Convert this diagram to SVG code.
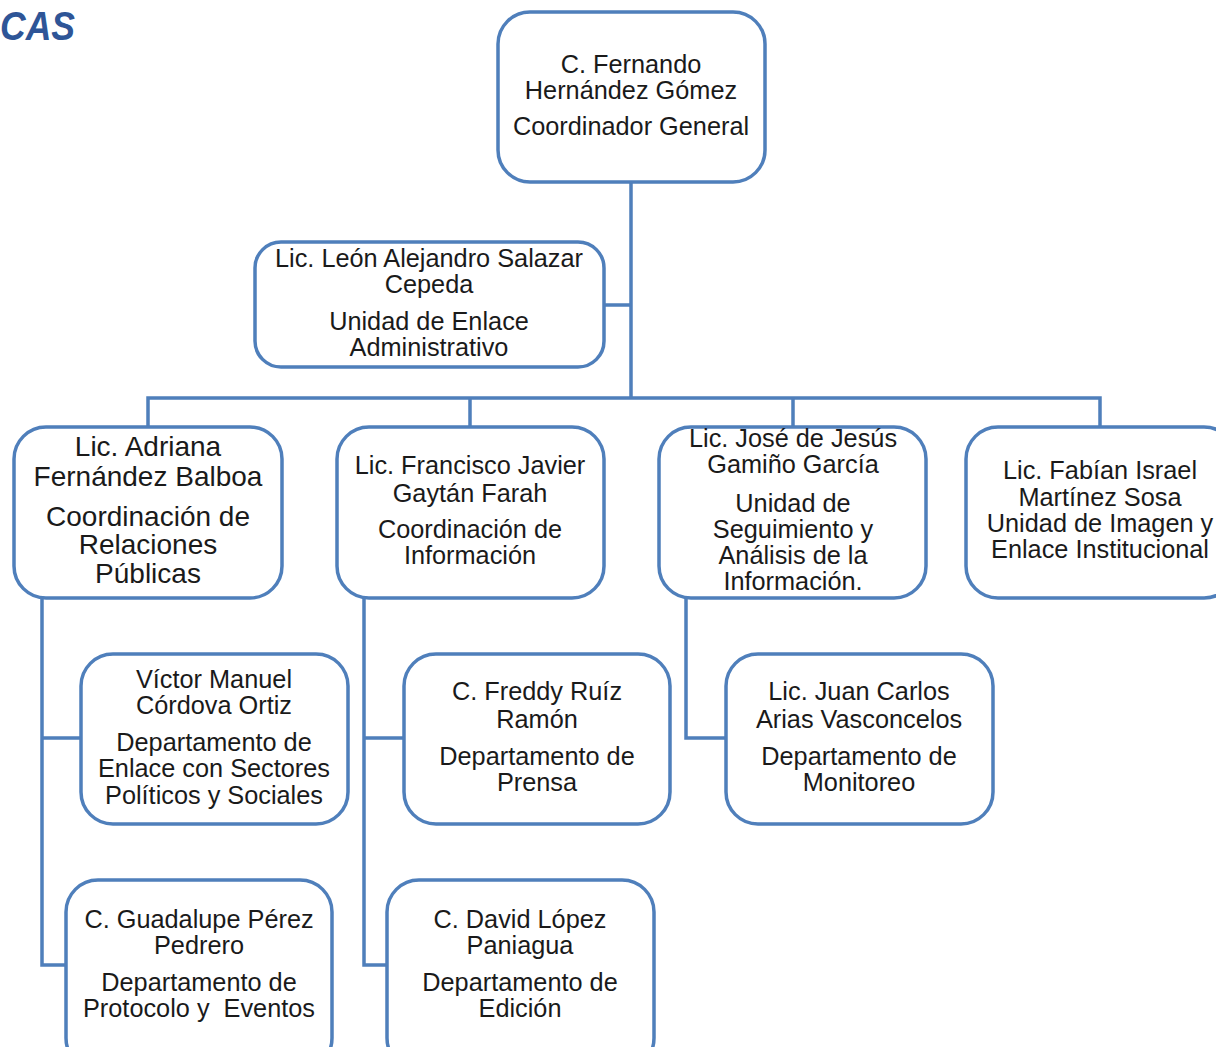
<svg xmlns="http://www.w3.org/2000/svg" width="1216" height="1047" viewBox="0 0 1216 1047">
<style>
.box{fill:#fff;stroke:#4f7fbb;stroke-width:3.5}
.ln{fill:none;stroke:#4f7fbb;stroke-width:3.5}
.t{font-family:"Liberation Sans",Arial,sans-serif;font-size:25.3px;fill:#1a1a1a;text-anchor:middle}
.big{font-size:28px}
</style>
<rect width="1216" height="1047" fill="#fff"/>
<text x="0" y="40" font-family="Liberation Sans,Arial,sans-serif" font-size="40" font-weight="bold" font-style="italic" fill="#2e5597" textLength="75" lengthAdjust="spacingAndGlyphs">CAS</text>
<g id="connectors">
<path class="ln" d="M631,182 V398 M604,305 H631 M148,427 V398 H1100 V427 M470,398 V427 M793,398 V427"/>
<path class="ln" d="M42,598 V965 H66 M42,738 H81"/>
<path class="ln" d="M364,598 V965 H387 M364,738 H404"/>
<path class="ln" d="M686,598 V738 H726"/>
</g>
<g id="n1"><rect class="box" x="498" y="12" width="267" height="170" rx="32"/>
<text class="t" x="631" y="73">C. Fernando</text><text class="t" x="631" y="99">Hernández Gómez</text><text class="t" x="631" y="135">Coordinador General</text></g>
<g id="n2"><rect class="box" x="255" y="242" width="349" height="125" rx="26"/>
<text class="t" x="429" y="267">Lic. León Alejandro Salazar</text><text class="t" x="429" y="293">Cepeda</text><text class="t" x="429" y="330">Unidad de Enlace</text><text class="t" x="429" y="356">Administrativo</text></g>
<g id="n3"><rect class="box" x="14" y="427" width="268" height="171" rx="32"/>
<text class="t big" x="148" y="456">Lic. Adriana</text><text class="t big" x="148" y="486">Fernández Balboa</text><text class="t big" x="148" y="526">Coordinación de</text><text class="t big" x="148" y="554">Relaciones</text><text class="t big" x="148" y="583">Públicas</text></g>
<g id="n4"><rect class="box" x="337" y="427" width="267" height="171" rx="32"/>
<text class="t" x="470" y="474">Lic. Francisco Javier</text><text class="t" x="470" y="502">Gaytán Farah</text><text class="t" x="470" y="538">Coordinación de</text><text class="t" x="470" y="564">Información</text></g>
<g id="n5"><rect class="box" x="659" y="427" width="267" height="171" rx="32"/>
<text class="t" x="793" y="447">Lic. José de Jesús</text><text class="t" x="793" y="473">Gamiño García</text><text class="t" x="793" y="512">Unidad de</text><text class="t" x="793" y="538">Seguimiento y</text><text class="t" x="793" y="564">Análisis de la</text><text class="t" x="793" y="590">Información.</text></g>
<g id="n6"><rect class="box" x="966" y="427" width="270" height="171" rx="32"/>
<text class="t" x="1100" y="479">Lic. Fabían Israel</text><text class="t" x="1100" y="506">Martínez Sosa</text><text class="t" x="1100" y="532">Unidad de Imagen y</text><text class="t" x="1100" y="558">Enlace Institucional</text></g>
<g id="n7"><rect class="box" x="81" y="654" width="267" height="170" rx="32"/>
<text class="t" x="214" y="688">Víctor Manuel</text><text class="t" x="214" y="714">Córdova Ortiz</text><text class="t" x="214" y="751">Departamento de</text><text class="t" x="214" y="777">Enlace con Sectores</text><text class="t" x="214" y="804">Políticos y Sociales</text></g>
<g id="n8"><rect class="box" x="404" y="654" width="266" height="170" rx="32"/>
<text class="t" x="537" y="700">C. Freddy Ruíz</text><text class="t" x="537" y="728">Ramón</text><text class="t" x="537" y="765">Departamento de</text><text class="t" x="537" y="791">Prensa</text></g>
<g id="n9"><rect class="box" x="726" y="654" width="267" height="170" rx="32"/>
<text class="t" x="859" y="700">Lic. Juan Carlos</text><text class="t" x="859" y="728">Arias Vasconcelos</text><text class="t" x="859" y="765">Departamento de</text><text class="t" x="859" y="791">Monitoreo</text></g>
<g id="n10"><rect class="box" x="66" y="880" width="266" height="190" rx="32"/>
<text class="t" x="199" y="928">C. Guadalupe Pérez</text><text class="t" x="199" y="954">Pedrero</text><text class="t" x="199" y="991">Departamento de</text><text class="t" x="199" y="1017" xml:space="preserve">Protocolo y  Eventos</text></g>
<g id="n11"><rect class="box" x="387" y="880" width="267" height="190" rx="32"/>
<text class="t" x="520" y="928">C. David López</text><text class="t" x="520" y="954">Paniagua</text><text class="t" x="520" y="991">Departamento de</text><text class="t" x="520" y="1017">Edición</text></g>
</svg>
